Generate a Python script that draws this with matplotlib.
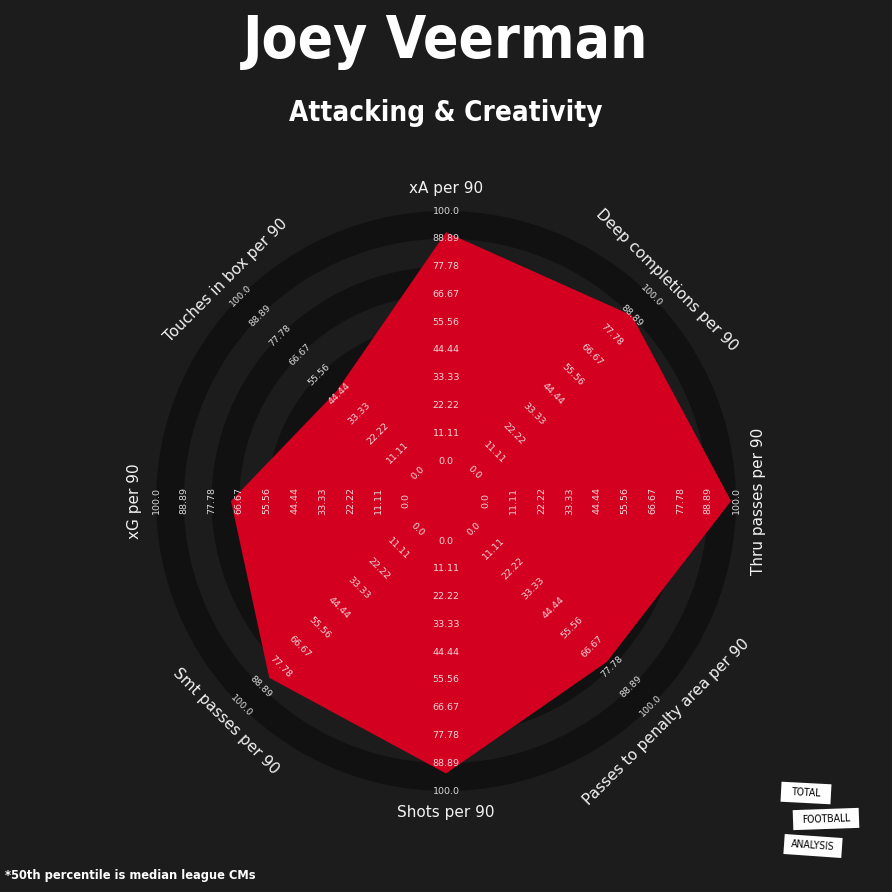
import numpy as np
import matplotlib
matplotlib.use("Agg")
import matplotlib.pyplot as plt
from matplotlib.patches import Wedge, Polygon, Rectangle
import matplotlib.transforms as mtransforms

# data
params = ["xA per 90", "Deep completions per 90", "Thru passes per 90",
          "Passes to penalty area per 90", "Shots per 90", "Smt passes per 90",
          "xG per 90", "Touches in box per 90"]
values = [91.5, 89, 98, 75, 93, 84, 70, 46]
min_range = 0
max_range = 100
num_rings = 9

title = "Joey Veerman"
subtitle = "Attacking & Creativity"
footnote = "*50th percentile is median league CMs"

# colours
bg = "#1c1c1c"
ring_dark = "#111111"
red = "#d4001f"

fig = plt.figure(figsize=(8.92, 8.92), dpi=100, facecolor=bg)
ax = fig.add_axes([0, 0, 1, 1])
ax.set_xlim(0, 892)
ax.set_ylim(892, 0)
ax.set_aspect("equal")
ax.axis("off")

cx, cy = 446, 501
r0, r1 = 40, 290


def radius(v):
    return r0 + (v - min_range) / (max_range - min_range) * (r1 - r0)


def point(r, ang):
    # ang measured clockwise from the top
    a = np.deg2rad(ang)
    return cx + r * np.sin(a), cy - r * np.cos(a)


def rot(ang):
    rr = -ang
    while rr <= -90:
        rr += 180
    while rr > 90:
        rr -= 180
    return rr


# rings
ring_edges = np.linspace(r0, r1, num_rings + 1)
for i in range(num_rings):
    if (num_rings - 1 - i) % 2 == 0:
        ax.add_patch(Wedge((cx, cy), ring_edges[i + 1], 0, 360,
                           width=ring_edges[i + 1] - ring_edges[i],
                           facecolor=ring_dark, edgecolor="none", zorder=1))

# radar polygon
angles = np.arange(len(params)) * 360 / len(params)
pts = [point(radius(v), a) for v, a in zip(values, angles)]
ax.add_patch(Polygon(pts, closed=True, facecolor=red, edgecolor="none", zorder=2))

# range labels
ticks = np.linspace(min_range, max_range, num_rings + 1)
for a in angles:
    for t in ticks:
        x, y = point(radius(t), a)
        ax.text(x, y, str(round(t, 2)), color="#eeeeee", alpha=0.9, fontsize=6.8,
                ha="center", va="center", rotation=rot(a),
                rotation_mode="anchor", zorder=3)

# parameter labels
for p, a in zip(params, angles):
    x, y = point(312, a)
    ax.text(x, y, p, color="#f2f2f2", fontsize=11, ha="center", va="center",
            rotation=rot(a), rotation_mode="anchor", zorder=3)

# titles
ax.text(446, 42, title, color="white", fontsize=42, fontweight="bold",
        fontstretch="condensed", ha="center", va="center")
ax.text(446, 113, subtitle, color="white", fontsize=20, fontweight="bold",
        fontstretch="condensed", ha="center", va="center")
ax.text(5, 876, footnote, color="white", fontsize=9.2, fontweight="bold",
        fontstretch="condensed", ha="left", va="center")

# logo
logo = [("TOTAL", 806, 793, 50, 20, 3),
        ("FOOTBALL", 826, 819, 66, 20, -2),
        ("ANALYSIS", 813, 846, 58, 20, 4)]
for txt, lx, ly, w, h, angle in logo:
    tr = mtransforms.Affine2D().rotate_deg_around(lx, ly, angle) + ax.transData
    ax.add_patch(Rectangle((lx - w / 2, ly - h / 2), w, h, facecolor="white",
                           edgecolor="none", transform=tr, zorder=4))
    ax.text(lx, ly, txt, color="black", fontsize=7.5, fontstretch="condensed",
            ha="center", va="center", rotation=-angle, zorder=5)

fig.savefig("out.png", dpi=100, facecolor=bg)
